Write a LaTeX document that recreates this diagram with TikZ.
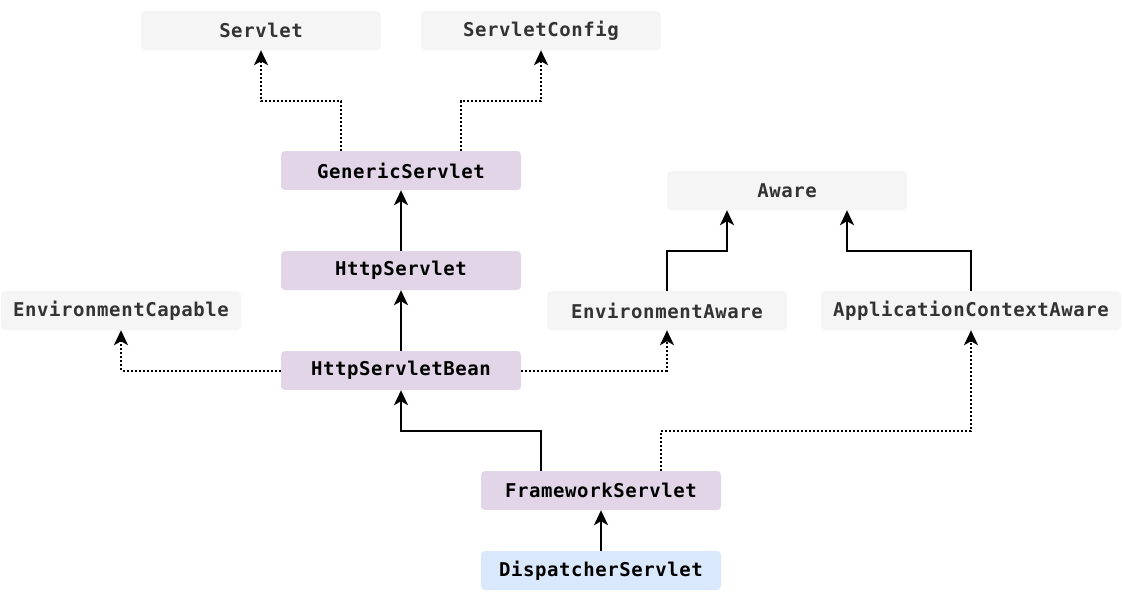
\documentclass[tikz,border=0pt]{standalone}
\usepackage{fontspec}
\setmonofont[LetterSpace=3]{DejaVu Sans Mono}
\usetikzlibrary{arrows.meta}
\definecolor{grayfill}{HTML}{F5F5F5}
\definecolor{purplefill}{HTML}{E1D5E7}
\definecolor{bluefill}{HTML}{DAE8FC}
\definecolor{graytext}{HTML}{333333}
\tikzset{
  box/.style={rounded corners=4pt, minimum height=39pt, minimum width=240pt, inner sep=0pt,
    font=\ttfamily\bfseries\fontsize{19}{22}\selectfont},
  gbox/.style={box, fill=grayfill, text=graytext},
  pbox/.style={box, fill=purplefill, text=black},
  bbox/.style={box, fill=bluefill, text=black},
  arr/.style={line width=2pt, -{Stealth[length=15pt,width=14pt,inset=4pt]}},
  darr/.style={arr, dash pattern=on 2pt off 2pt},
}
\begin{document}
\begin{tikzpicture}[x=1pt,y=-1pt]
\useasboundingbox (0,0) rectangle (1122,600);
\node[gbox] (servlet) at (261,30.5) {Servlet};
\node[gbox] (config) at (541,30.5) {ServletConfig};
\node[pbox] (generic) at (401,170.5) {GenericServlet};
\node[gbox] (aware) at (787,190.5) {Aware};
\node[pbox] (http) at (401,270.5) {HttpServlet};
\node[gbox] (envcap) at (121,310.5) {EnvironmentCapable};
\node[gbox] (envaware) at (667,310.5) {EnvironmentAware};
\node[gbox, minimum width=300pt] (appaware) at (971,310.5) {ApplicationContextAware};
\node[pbox] (bean) at (401,370.5) {HttpServletBean};
\node[pbox] (frame) at (601,490.5) {FrameworkServlet};
\node[bbox] (disp) at (601,570.5) {DispatcherServlet};

\draw[darr] (generic.north -| 341,0) |- (261,101) -- (servlet.south -| 261,0);
\draw[darr] (generic.north -| 461,0) |- (541,101) -- (config.south -| 541,0);
\draw[arr] (http) -- (generic);
\draw[arr] (bean) -- (http);
\draw[darr] (bean.west) -| (envcap.south);
\draw[darr] (bean.east) -| (envaware.south);
\draw[arr] (envaware.north) |- (727,251) -- (aware.south -| 727,0);
\draw[arr] (appaware.north) |- (847,251) -- (aware.south -| 847,0);
\draw[arr] (frame.north -| 541,0) |- (401,431) -- (bean.south);
\draw[darr] (frame.north -| 661,0) |- (971,431) -- (appaware.south);
\draw[arr] (disp) -- (frame);
\end{tikzpicture}
\end{document}
